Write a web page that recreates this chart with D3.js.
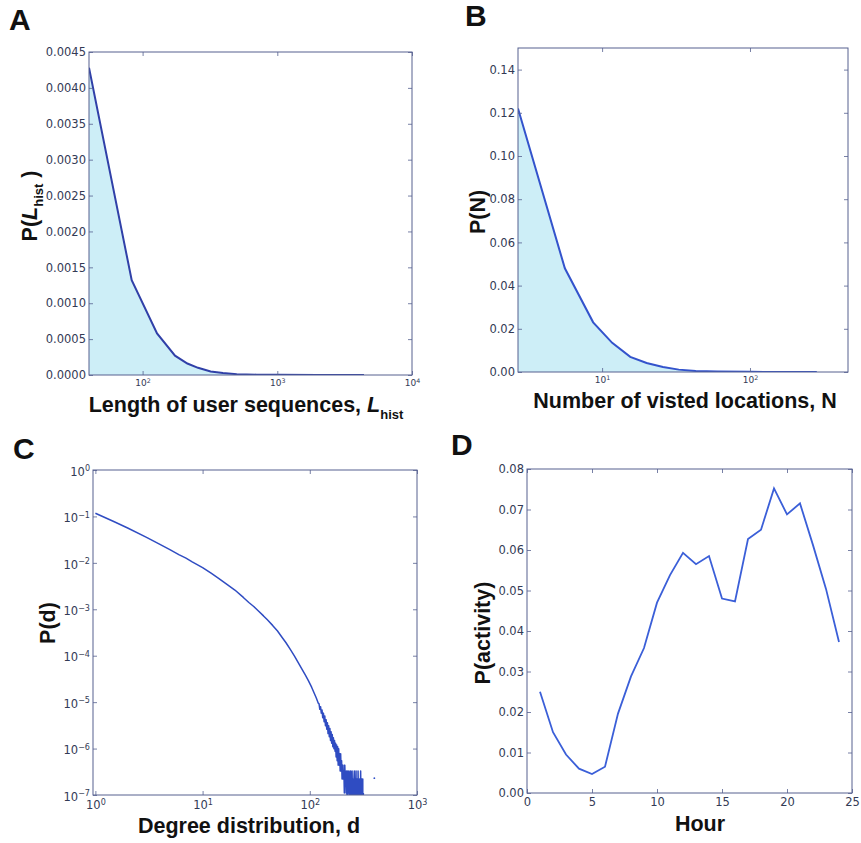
<!DOCTYPE html>
<html lang="en">
<head>
<meta charset="utf-8">
<title>Mobility statistics panels</title>
<script src="https://d3js.org/d3.v7.min.js"></script>
<style>
  body { margin: 0; background: #fff; }
  .tick text { font-family: 'DejaVu Sans', sans-serif; fill: #333a55; }
  .lab { font-family: 'Liberation Sans', Arial, sans-serif; font-weight: bold; fill: #111; }
  .letter { font-family: 'Liberation Sans', Arial, sans-serif; font-weight: bold; font-size: 30px; fill: #111; }
</style>
</head>
<body>
<svg id="chart" width="861" height="843"></svg>
<script>
// ---- data ----
// A: length of user sequences
const aLength = [40, 83, 128, 174, 215, 258, 320, 395, 500, 700, 1000, 2000, 4400];
const aProb = [0.00428, 0.00132, 0.00058, 0.00027, 0.00016, 0.0001, 0.00005, 0.000028, 0.000012, 0.000005, 0.000002, 0.000001, 0.0000005];

// B: number of visited locations
const bCount = [2.7, 5.6, 8.7, 11.7, 15.5, 20, 25.8, 33, 43, 60, 100, 180, 283];
const bProb = [0.122, 0.048, 0.023, 0.0135, 0.007, 0.0042, 0.0023, 0.0011, 0.0005, 0.0002, 0.00006, 0.00002, 0.00001];

// C: degree distribution (smooth head, noisy tail every 2nd degree)
const cHeadDeg = [1, 1.5, 2, 3, 4, 5, 6, 7, 8, 10, 12, 14, 17, 20, 24, 27, 30, 33, 37, 40, 45, 50,
                  55, 60, 66, 72, 78, 85, 91, 97, 104, 110, 115, 120];
const cHeadProb = [0.117, 0.0767, 0.0562, 0.0355, 0.0251, 0.0191, 0.0151, 0.0126, 0.0105, 0.0079, 0.006,
                   0.0047, 0.0034, 0.0026, 0.0018, 0.0014, 0.00115, 0.00093, 0.00072, 0.0006, 0.00045,
                   0.00034, 0.00025, 0.00019, 0.000135, 0.000098, 0.000071, 0.00005, 0.000038, 0.000029,
                   0.000021, 0.0000155, 0.0000123, 0.0000095];
const cTailDeg = d3.range(122, 317, 2);
const cTailProb = [
  92e-7, 70e-7, 80e-7, 58e-7, 68e-7, 46e-7, 58e-7, 38e-7, 50e-7, 31e-7,
  42e-7, 26e-7, 36e-7, 21e-7, 31e-7, 18e-7, 27e-7, 15e-7, 23e-7, 13e-7,
  20e-7, 11e-7, 17e-7, 9.9e-7, 15e-7, 8.8e-7, 13e-7, 6.6e-7, 12e-7, 5.5e-7,
  11e-7, 4.4e-7, 9.9e-7, 4.4e-7, 7.7e-7, 3.3e-7, 7.7e-7, 3.3e-7, 5.5e-7, 2.2e-7,
  3.3e-7, 4.4e-7, 2.2e-7, 3.3e-7, 1.1e-7, 4.4e-7, 2.2e-7, 3.3e-7, 1.1e-7, 3.3e-7,
  2.2e-7, 0, 3.3e-7, 1.1e-7, 2.2e-7, 3.3e-7, 1.1e-7, 0, 2.2e-7, 3.3e-7,
  1.1e-7, 2.2e-7, 0, 3.3e-7, 1.1e-7, 2.2e-7, 1.1e-7, 0, 2.2e-7, 3.3e-7,
  1.1e-7, 0, 2.2e-7, 1.1e-7, 3.3e-7, 0, 1.1e-7, 2.2e-7, 1.1e-7, 0,
  3.3e-7, 1.1e-7, 2.2e-7, 0, 1.1e-7, 2.2e-7, 0, 1.1e-7, 3.3e-7, 1.1e-7,
  0, 2.2e-7, 1.1e-7, 0, 1.1e-7, 2.2e-7, 0, 1.1e-7
];
const cOutlier = [[400, 2.3e-7]];

// D: activity by hour
const dHour = [1, 2, 3, 4, 5, 6, 7, 8, 9, 10, 11, 12, 13, 14, 15, 16, 17, 18, 19, 20, 21, 22, 23, 24];
const dActivity = [0.025, 0.015, 0.0095, 0.006, 0.0047, 0.0065, 0.0196, 0.0288, 0.0358, 0.047, 0.0538, 0.0593,
                   0.0565, 0.0585, 0.048, 0.0473, 0.0627, 0.065, 0.0752, 0.0688, 0.0715, 0.0612, 0.0504, 0.0373];

const svg = d3.select("#chart");
const frameColor = "#56618f";

function supLabel(sel) {
    sel.each(function(d) {
        const t = d3.select(this);
        const e = Math.round(Math.log10(d));
        t.text(null);
        t.append("tspan").text("10");
        t.append("tspan").attr("dy", "-0.55em").attr("font-size", "0.7em").text(e < 0 ? "\u2212" + (-e) : e);
    });
}

// builds one panel: frame, inward ticks on every side, clip path
function makePanel(p) {
    const g = svg.append("g");
    const w = p.right - p.left, h = p.bottom - p.top;
    const x = (p.xlog ? d3.scaleLog() : d3.scaleLinear()).domain(p.xdom).range([p.left, p.right]);
    const y = (p.ylog ? d3.scaleLog() : d3.scaleLinear()).domain(p.ydom).range([p.bottom, p.top]);

    svg.append("clipPath").attr("id", "clip" + p.id)
        .append("rect").attr("x", p.left).attr("y", p.top).attr("width", w).attr("height", h);
    const plot = g.append("g").attr("clip-path", "url(#clip" + p.id + ")");

    const xb = d3.axisBottom(x).tickValues(p.xticks).tickSizeInner(-4).tickSizeOuter(0).tickPadding(p.xpad);
    const yl = d3.axisLeft(y).tickValues(p.yticks).tickSizeInner(-4).tickSizeOuter(0).tickPadding(3);
    if (p.xfmt) xb.tickFormat(p.xfmt);
    if (p.yfmt) yl.tickFormat(p.yfmt);

    const gx = g.append("g").attr("transform", `translate(0,${p.bottom})`).call(xb);
    const gy = g.append("g").attr("transform", `translate(${p.left},0)`).call(yl);
    g.append("g").attr("transform", `translate(0,${p.top})`)
        .call(d3.axisTop(x).tickValues(p.xticks).tickSizeInner(-4).tickSizeOuter(0).tickFormat(""));
    g.append("g").attr("transform", `translate(${p.right},0)`)
        .call(d3.axisRight(y).tickValues(p.yticks).tickSizeInner(-4).tickSizeOuter(0).tickFormat(""));

    gx.selectAll(".tick text").attr("font-size", p.xfs);
    gy.selectAll(".tick text").attr("font-size", p.yfs);
    if (p.xlog) gx.selectAll(".tick text").call(supLabel);
    if (p.ylog) gy.selectAll(".tick text").call(supLabel).attr("dy", "0.45em");

    g.selectAll(".domain").remove();
    g.selectAll(".tick line").attr("stroke", frameColor).attr("stroke-width", 0.8);

    g.append("rect").attr("x", p.left).attr("y", p.top).attr("width", w).attr("height", h)
        .attr("fill", "none").attr("stroke", frameColor).attr("stroke-width", 1);

    return { g, plot, x, y };
}

// ---------- A ----------
const A = makePanel({
    id: "A", left: 89, top: 52, right: 412, bottom: 375,
    xlog: true, xdom: [40, 10000], xticks: [100, 1000, 10000], xfs: 9, xpad: 5,
    ydom: [0, 0.0045], yticks: d3.range(0, 0.00451, 0.0005), yfmt: d3.format(".4f"), yfs: 11.5
});
const aPts = aLength.map((v, i) => [v, aProb[i]]);
A.plot.append("path").datum(aPts)
    .attr("fill", "#cdeef7")
    .attr("d", d3.area().x(d => A.x(d[0])).y0(A.y(0)).y1(d => A.y(d[1])));
A.plot.append("path").datum(aPts)
    .attr("fill", "none").attr("stroke", "#3040a8").attr("stroke-width", 2)
    .attr("d", d3.line().x(d => A.x(d[0])).y(d => A.y(d[1])));

// ---------- B ----------
const B = makePanel({
    id: "B", left: 518, top: 48, right: 848, bottom: 372,
    xlog: true, xdom: [2.7, 460], xticks: [10, 100], xfs: 9, xpad: 5,
    ydom: [0, 0.15], yticks: d3.range(0, 0.141, 0.02), yfmt: d3.format(".2f"), yfs: 11.5
});
const bPts = bCount.map((v, i) => [v, bProb[i]]);
B.plot.append("path").datum(bPts)
    .attr("fill", "#cdeef7")
    .attr("d", d3.area().x(d => B.x(d[0])).y0(B.y(0)).y1(d => B.y(d[1])));
B.plot.append("path").datum(bPts)
    .attr("fill", "none").attr("stroke", "#3353cc").attr("stroke-width", 2)
    .attr("d", d3.line().x(d => B.x(d[0])).y(d => B.y(d[1])));

// ---------- C ----------
const C = makePanel({
    id: "C", left: 93, top: 470, right: 417, bottom: 795,
    xlog: true, xdom: [0.95, 1000], xticks: [1, 10, 100, 1000], xfs: 11.5, xpad: 6,
    ylog: true, ydom: [1e-7, 1], yticks: [1e-7, 1e-6, 1e-5, 1e-4, 1e-3, 1e-2, 1e-1, 1], yfs: 11.5
});
const cPts = cHeadDeg.map((v, i) => [v, cHeadProb[i]])
    .concat(cTailDeg.map((v, i) => [v, cTailProb[i]]));
C.plot.append("path").datum(cPts)
    .attr("fill", "none").attr("stroke", "#2f4cc2").attr("stroke-width", 1.5)
    .attr("stroke-linejoin", "round")
    .attr("d", d3.line().x(d => C.x(d[0])).y(d => C.y(Math.max(d[1], 1e-9))));
C.plot.selectAll("circle.out").data(cOutlier).join("circle")
    .attr("cx", d => C.x(d[0])).attr("cy", d => C.y(d[1])).attr("r", 0.9).attr("fill", "#3050c8");

// ---------- D ----------
const D = makePanel({
    id: "D", left: 527, top: 469, right: 852, bottom: 793,
    xdom: [0, 25], xticks: [0, 5, 10, 15, 20, 25], xfmt: d3.format("d"), xfs: 11.5, xpad: 5,
    ydom: [0, 0.08], yticks: d3.range(0, 0.0801, 0.01), yfmt: d3.format(".2f"), yfs: 11.5
});
D.plot.append("path").datum(dHour.map((v, i) => [v, dActivity[i]]))
    .attr("fill", "none").attr("stroke", "#3b5fd8").attr("stroke-width", 1.8)
    .attr("d", d3.line().x(d => D.x(d[0])).y(d => D.y(d[1])));

// ---------- panel letters ----------
svg.append("text").attr("class", "letter").attr("x", 9).attr("y", 30).text("A");
svg.append("text").attr("class", "letter").attr("x", 465).attr("y", 26).text("B");
svg.append("text").attr("class", "letter").attr("x", 13).attr("y", 459).text("C");
svg.append("text").attr("class", "letter").attr("x", 451).attr("y", 455).text("D");

// ---------- axis labels ----------
function xLabel(cx, y) {
    return svg.append("text").attr("class", "lab").attr("x", cx).attr("y", y)
        .attr("text-anchor", "middle").attr("font-size", 21.5);
}
function yLabel(x, cy) {
    return svg.append("text").attr("class", "lab")
        .attr("transform", `translate(${x},${cy}) rotate(-90)`)
        .attr("text-anchor", "middle").attr("font-size", 21.5);
}

const xa = xLabel(246, 412);
xa.append("tspan").text("Length of user sequences, ");
xa.append("tspan").attr("font-style", "italic").text("L");
xa.append("tspan").attr("font-size", 13).attr("dy", 7).text("hist");

xLabel(685, 408).text("Number of visted locations, N");
xLabel(249, 833).text("Degree distribution, d");
xLabel(700, 831).text("Hour");

const ya = yLabel(37, 206);
ya.append("tspan").text("P(");
ya.append("tspan").attr("font-style", "italic").text("L");
ya.append("tspan").attr("font-size", 13).attr("dy", 6).text("hist");
ya.append("tspan").attr("dy", -6).text(" )");

yLabel(485, 212).text("P(N)");
yLabel(55, 623).text("P(d)");
yLabel(490, 633).text("P(activity)");
</script>
</body>
</html>
